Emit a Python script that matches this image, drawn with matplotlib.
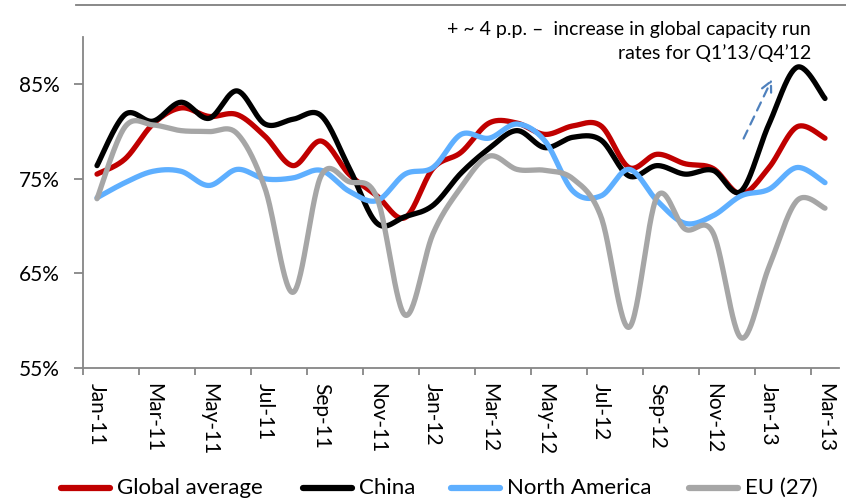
import numpy as np
import matplotlib
matplotlib.use("Agg")
import matplotlib.pyplot as plt
from matplotlib.lines import Line2D

plt.rcParams['font.family'] = ['Lato', 'DejaVu Sans']

# Monthly capacity run rates, %
months = ["Jan-11", "Feb-11", "Mar-11", "Apr-11", "May-11", "Jun-11", "Jul-11",
          "Aug-11", "Sep-11", "Oct-11", "Nov-11", "Dec-11", "Jan-12", "Feb-12",
          "Mar-12", "Apr-12", "May-12", "Jun-12", "Jul-12", "Aug-12", "Sep-12",
          "Oct-12", "Nov-12", "Dec-12", "Jan-13", "Feb-13", "Mar-13"]

global_avg = [75.5, 77.1, 80.8, 82.5, 81.6, 81.8, 79.5, 76.4, 79.0, 75.5, 73.2, 70.9,
              76.1, 77.8, 80.9, 80.9, 79.7, 80.6, 80.6, 76.2, 77.6, 76.6, 76.1, 73.4,
              76.2, 80.5, 79.3]
china = [76.4, 81.8, 81.1, 83.1, 81.4, 84.3, 80.8, 81.3, 81.7, 76.2, 70.3, 71.0,
         72.2, 75.6, 78.2, 80.1, 78.3, 79.4, 79.1, 75.3, 76.4, 75.5, 75.9, 73.7,
         80.8, 86.8, 83.5]
north_america = [73.0, 74.6, 75.8, 75.8, 74.3, 76.0, 75.0, 75.1, 75.9, 73.7, 72.7, 75.5,
                 76.2, 79.7, 79.3, 80.8, 79.0, 73.7, 73.2, 76.0, 72.7, 70.3, 71.1, 73.2,
                 73.9, 76.2, 74.6]
eu27 = [72.9, 80.5, 80.7, 80.1, 80.0, 79.8, 74.0, 63.0, 75.3, 74.7, 73.0, 60.6,
        69.2, 74.1, 77.4, 76.0, 75.9, 75.0, 71.0, 59.3, 73.1, 69.7, 69.3, 58.2,
        65.7, 72.7, 71.9]

series = [("Global average", global_avg, "#C00000"),
          ("China", china, "#000000"),
          ("North America", north_america, "#5EAFFF"),
          ("EU (27)", eu27, "#A6A6A6")]

y_ticks = [55, 65, 75, 85]
y_tick_labels = ["55%", "65%", "75%", "85%"]

note_line1 = "+ ~ 4 p.p. \u2013  increase in global capacity run"
note_line2 = "rates for Q1\u201913/Q4\u201912"


def smooth(x, y, n=30):
    """Smoothed curve through every point using cubic Bezier segments."""
    x = np.asarray(x, float)
    y = np.asarray(y, float)
    px = np.concatenate([[x[0]], x, [x[-1]]])
    py = np.concatenate([[y[0]], y, [y[-1]]])
    t = np.linspace(0, 1, n, endpoint=False)[:, None]
    xs, ys = [], []
    for i in range(len(x) - 1):
        p0 = np.array([x[i], y[i]])
        p3 = np.array([x[i + 1], y[i + 1]])
        p1 = p0 + (np.array([px[i + 2], py[i + 2]]) - np.array([px[i], py[i]])) / 6
        p2 = p3 - (np.array([px[i + 3], py[i + 3]]) - np.array([px[i + 1], py[i + 1]])) / 6
        b = ((1 - t) ** 3) * p0 + 3 * ((1 - t) ** 2) * t * p1 + 3 * (1 - t) * t ** 2 * p2 + t ** 3 * p3
        xs.append(b[:, 0])
        ys.append(b[:, 1])
    xs.append([x[-1]])
    ys.append([y[-1]])
    return np.concatenate(xs), np.concatenate(ys)


fig = plt.figure(figsize=(8.46, 4.99), dpi=100)
W, H = 846, 499
ax = fig.add_axes([83 / W, 1 - 368 / H, (839 - 83) / W, (368 - 37) / H])

xi = np.arange(len(months))
for name, vals, color in series:
    sx, sy = smooth(xi, vals)
    ax.plot(sx, sy, color=color, lw=3.8, solid_capstyle='round',
            solid_joinstyle='round', label=name)

ax.set_xlim(-0.5, len(months) - 0.5)
ax.set_ylim(55, 90)

ax.set_yticks(y_ticks)
ax.set_yticklabels(y_tick_labels, fontsize=15)
ax.set_xticks(xi[::2])
ax.set_xticklabels(months[::2], rotation=-90, fontsize=15, va='top', ha='center')
ax.set_xticks(np.arange(-0.5, len(months) - 1, 2), minor=True)

axis_grey = "#868686"
for side in ("top", "right"):
    ax.spines[side].set_visible(False)
for side in ("left", "bottom"):
    ax.spines[side].set_color(axis_grey)
    ax.spines[side].set_linewidth(1.3)

ax.tick_params(axis='y', length=6.5, width=1.3, color=axis_grey, pad=10)
ax.tick_params(axis='x', which='major', length=0, pad=11)
ax.tick_params(axis='x', which='minor', length=5, width=1.3, color=axis_grey)

# Trend arrow and note on the latest quarter
ax.annotate("", xy=(24.15, 85.8), xytext=(23.05, 79.0),
            arrowprops=dict(arrowstyle='->', color="#4F81BD", lw=1.6,
                            linestyle=(0, (4, 3)), mutation_scale=18))
fig.text(811 / W, 1 - 30 / H, note_line1, ha='right', va='center', fontsize=14)
fig.text(811 / W, 1 - 53 / H, note_line2, ha='right', va='center', fontsize=14)

# Rule across the top of the panel
fig.add_artist(Line2D([76 / W, 1.0], [1 - 5 / H, 1 - 5 / H], transform=fig.transFigure,
                      color="#7F7F7F", lw=1.3))

# Legend row: key line followed by its label
legend_x = [58, 300, 448, 686]
legend_y = 1 - 488 / H
for (name, _, color), lx in zip(series, legend_x):
    fig.add_artist(Line2D([(lx + 3) / W, (lx + 52) / W], [legend_y, legend_y],
                          transform=fig.transFigure, color=color, lw=4.5,
                          solid_capstyle='round'))
    fig.text((lx + 59) / W, legend_y, name, ha='left', va='center', fontsize=16)

fig.savefig("out.png", dpi=100)
